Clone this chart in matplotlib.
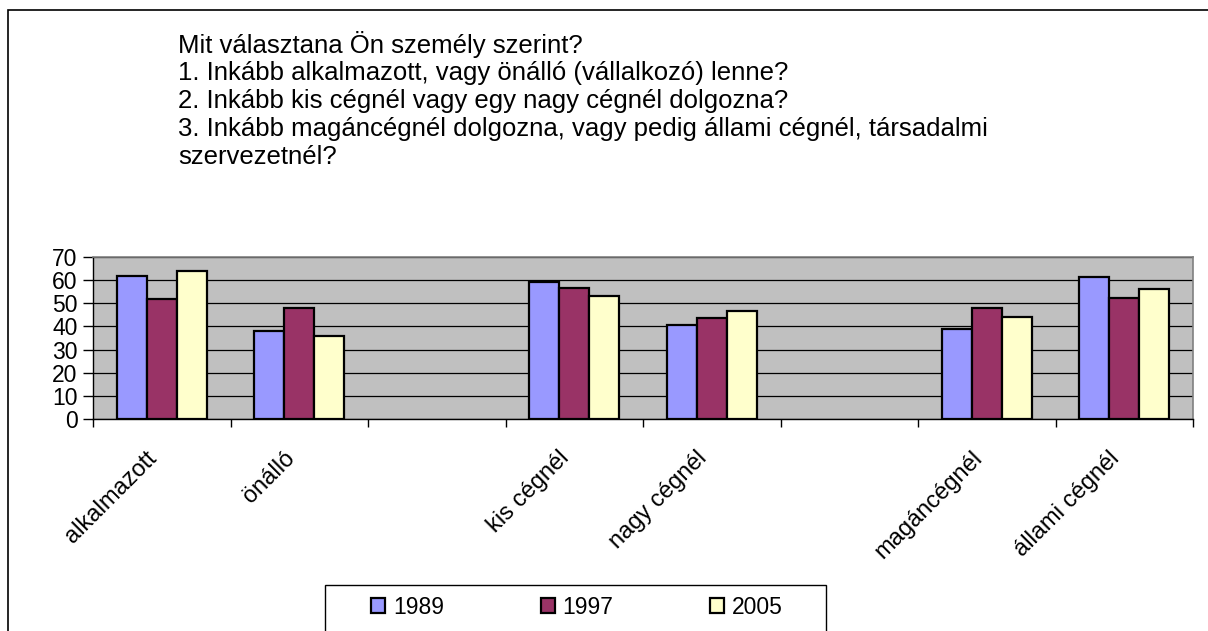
import numpy as np
import matplotlib
matplotlib.use("Agg")
import matplotlib.pyplot as plt
from matplotlib.patches import Patch, Rectangle
from matplotlib.transforms import ScaledTranslation, blended_transform_factory

plt.rcParams['font.family'] = ['Liberation Sans', 'DejaVu Sans']

# data (empty categories are spacers)
categories = ["alkalmazott", "önálló", "", "kis cégnél", "nagy cégnél", "",
              "magáncégnél", "állami cégnél"]
years = ["1989", "1997", "2005"]
v1989 = [62, 38, np.nan, 59.4, 40.6, np.nan, 38.7, 61.3]
v1997 = [52, 48, np.nan, 56.4, 43.6, np.nan, 47.8, 52.2]
v2005 = [64, 36, np.nan, 53.3, 46.7, np.nan, 43.9, 56.1]
colors = ["#9999FF", "#993366", "#FFFFCC"]

title_lines = [
    "Mit választana Ön személy szerint?",
    "1. Inkább alkalmazott, vagy önálló (vállalkozó) lenne?",
    "2. Inkább kis cégnél vagy egy nagy cégnél dolgozna?",
    "3. Inkább magáncégnél dolgozna, vagy pedig állami cégnél, társadalmi",
    "szervezetnél?",
]

W, H = 1208, 631
fig = plt.figure(figsize=(W / 100, H / 100), dpi=100)

# outer chart border (only left/top visible in the crop)
fig.patches.append(Rectangle((8 / W, -0.05), 1.1, 1 - 10 / H + 0.05,
                             transform=fig.transFigure, fill=False,
                             edgecolor="black", linewidth=1.2))

ax = fig.add_axes([93 / W, 1 - 419 / H, 1100 / W, 162 / H])
ax.set_facecolor("#C0C0C0")

x = np.arange(len(categories))
w = 0.218
for i, (vals, c) in enumerate(zip([v1989, v1997, v2005], colors)):
    ax.bar(x + (i - 1) * w, vals, width=w, color=c, edgecolor="black",
           linewidth=1.6, label=years[i], zorder=3)

ax.set_xlim(-0.5, len(categories) - 0.5)
ax.set_ylim(0, 70)
ax.set_yticks(range(0, 71, 10))
ax.yaxis.grid(True, color="black", linewidth=0.9, zorder=1)
ax.set_axisbelow(True)

# ticks sit on category boundaries, labels are slanted under each category
ax.set_xticks(np.arange(-0.5, len(categories), 1))
ax.set_xticklabels([])
ax.tick_params(axis="x", length=6, width=1, direction="out", color="black")
lab_tr = blended_transform_factory(ax.transData, ax.transAxes) + \
    ScaledTranslation(-0.08, -0.36, fig.dpi_scale_trans)
for xi, name in zip(x, categories):
    ax.text(xi, 0, name, transform=lab_tr, rotation=45, ha="right",
            va="center", rotation_mode="anchor", fontsize=17)

ax.tick_params(axis="y", length=7, width=1, direction="out", labelsize=16.5,
               pad=4)

for s in ["top", "right"]:
    ax.spines[s].set_color("#808080")
    ax.spines[s].set_linewidth(1.2)
for s in ["left", "bottom"]:
    ax.spines[s].set_color("black")
    ax.spines[s].set_linewidth(1.0)

# question text
for k, line in enumerate(title_lines):
    fig.text(178 / W, 1 - (45 + 28 * k) / H, line, fontsize=18.5,
             ha="left", va="center")

# legend box (Excel style, bottom edge cut off by the crop)
fig.patches.append(Rectangle((325 / W, -0.05), 501 / W, 0.05 + 1 - 585 / H,
                             transform=fig.transFigure, fill=False,
                             edgecolor="black", linewidth=1.0))
handles = [Patch(facecolor=c, edgecolor="black", linewidth=1.6) for c in colors]
fig.legend(handles, years, loc="center left", mode="expand",
           bbox_to_anchor=(371 / W, 1 - 607 / H, 412 / W, 0), ncol=3,
           fontsize=16.5, frameon=False, handlelength=0.62,
           handleheight=0.62, handletextpad=0.35, borderpad=0,
           borderaxespad=0)

fig.savefig("out.png", dpi=100)
